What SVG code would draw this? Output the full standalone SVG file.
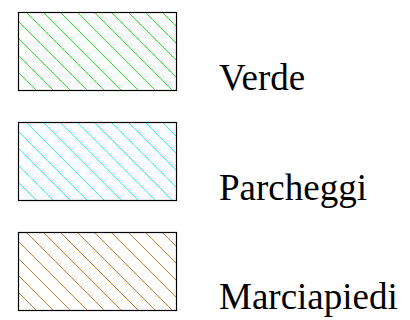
<svg xmlns="http://www.w3.org/2000/svg" width="410" height="320" viewBox="0 0 410 320">
<style>
.box{stroke:#000;stroke-width:1.2;fill:none}
.lbl{font-family:"Liberation Serif","Times New Roman",serif;font-size:37px;fill:#000}
.g{stroke:#33dd33;stroke-width:1;fill:none}
.c{stroke:#33eeee;stroke-width:1;fill:none}
.b{stroke:#c8782a;stroke-width:1;fill:none}
</style>
<g id="verde">
<path class="g" d="M18,89L19,90M18,72L36,90M18,55L53,90M18,38L70,90M18,21L87,90M26,12L104,90M43,12L121,90M60,12L138,90M77,12L155,90M94,12L172,90M111,12L176,77M128,12L176,60M145,12L176,43M162,12L176,26"/>
<rect class="box" x="18.5" y="12.5" width="158" height="78"/>
<text class="lbl" x="219" y="90">Verde</text>
</g>
<g id="parcheggi">
<path class="c" d="M18,199L19,200M18,182L36,200M18,165L53,200M18,148L70,200M18,131L87,200M26,122L104,200M43,122L121,200M60,122L138,200M77,122L155,200M94,122L172,200M111,122L176,187M128,122L176,170M145,122L176,153M162,122L176,136"/>
<rect class="box" x="18.5" y="122.5" width="158" height="78"/>
<text class="lbl" x="219" y="200">Parcheggi</text>
</g>
<g id="marciapiedi">
<path class="b" d="M18,309L19,310M18,292L36,310M18,275L53,310M18,258L70,310M18,241L87,310M26,232L104,310M43,232L121,310M60,232L138,310M77,232L155,310M94,232L172,310M111,232L176,297M128,232L176,280M145,232L176,263M162,232L176,246"/>
<rect class="box" x="18.5" y="232.5" width="158" height="78"/>
<text class="lbl" x="219" y="309">Marciapiedi</text>
</g>
<g id="connectors"/>
</svg>
